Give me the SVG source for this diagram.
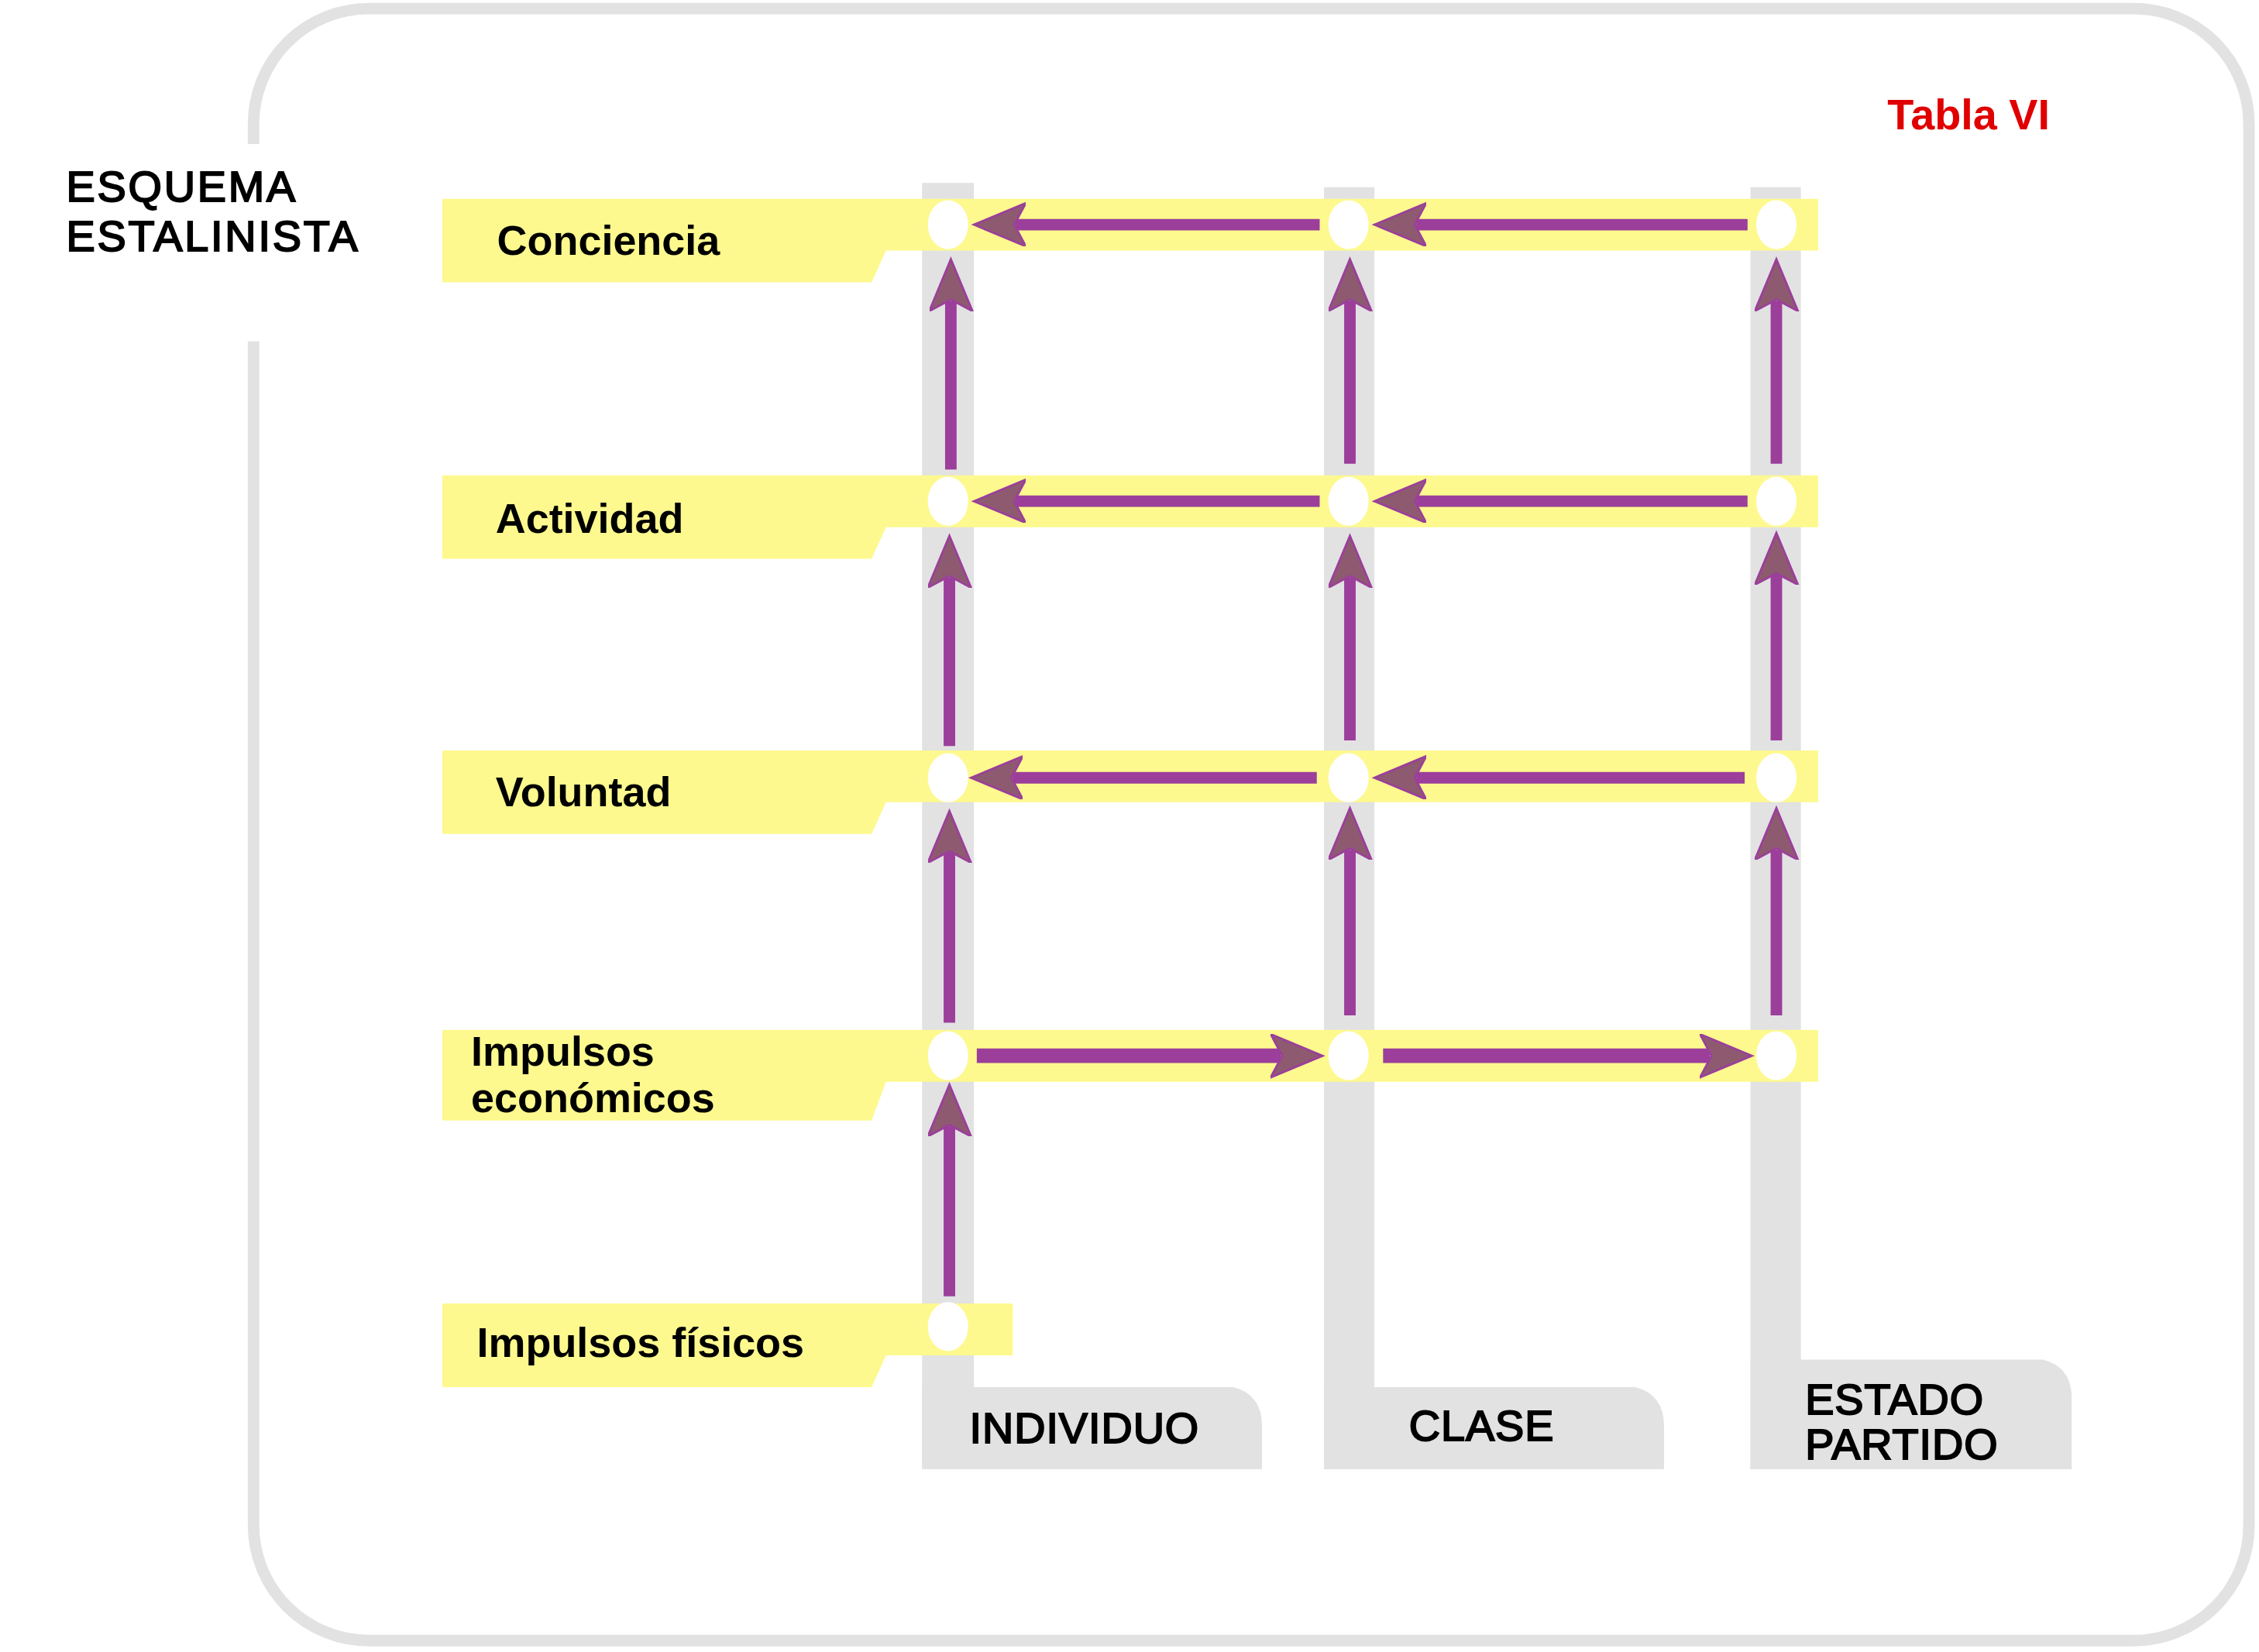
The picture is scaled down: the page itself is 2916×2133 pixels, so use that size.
<svg xmlns="http://www.w3.org/2000/svg" width="2916" height="2133" viewBox="0 0 2916 2133">
<style>
.col{fill:#e2e2e2}
.yel{fill:#fdf98e}
.dot{fill:#ffffff}
.arr{stroke:#9b3f9b;stroke-width:8;fill:none}
.arrw{stroke:#9b3f9b;stroke-width:10;fill:none}
.lbl{font-family:"Liberation Sans",Arial,sans-serif;font-size:29px;font-weight:bold;fill:#000}
.cl{font-family:"Liberation Sans",Arial,sans-serif;font-size:30px;fill:#000;stroke:#000;stroke-width:1.1;letter-spacing:0.5px}
.tt{font-family:"Liberation Sans",Arial,sans-serif;font-size:30px;fill:#000;stroke:#000;stroke-width:1.1;letter-spacing:1.5px}
</style>
<defs>
<marker id="ah" markerUnits="userSpaceOnUse" markerWidth="40" markerHeight="32" refX="7" refY="15" orient="auto">
<path d="M0,0 L36,15 L0,30 L8,15 Z" fill="#8e5a70" stroke="#9b3f9b" stroke-width="1.5"/>
</marker>
</defs>
<rect width="2916" height="2133" fill="#fff"/>
<g transform="scale(1.8597)">
<g id="frame">
<rect x="176" y="6" width="1385" height="1133" rx="80" fill="none" stroke="#e2e2e2" stroke-width="8"/>
<rect x="165" y="100" width="25" height="137" fill="#fff"/>
</g>
<g id="title">
<text class="tt" x="46" y="140">ESQUEMA</text>
<text class="tt" x="46" y="174">ESTALINISTA</text>
</g>
<text id="tabla" x="1310" y="90" font-family="Liberation Sans,Arial,sans-serif" font-size="30" font-weight="bold" fill="#e00000">Tabla VI</text>
<g id="columns">
<rect class="col" x="640" y="127" width="36" height="893"/>
<rect class="col" x="919" y="130" width="35" height="890"/>
<rect class="col" x="1215" y="130" width="35" height="890"/>
<path class="col" d="M640,963 H856 Q876,968 876,990 V1020 H640 Z"/>
<path class="col" d="M919,963 H1135 Q1155,968 1155,990 V1020 H919 Z"/>
<path class="col" d="M1215,944 H1418 Q1438,949 1438,971 V1020 H1215 Z"/>
</g>
<g id="rows">
<path class="yel" d="M307,138 H1262 V174 H615 L605,196 H307 Z"/>
<path class="yel" d="M307,330 H1262 V366 H615 L605,388 H307 Z"/>
<path class="yel" d="M307,521 H1262 V557 H615 L605,579 H307 Z"/>
<path class="yel" d="M307,715 H1262 V751 H615 L605,778 H307 Z"/>
<path class="yel" d="M307,905 H703 V941 H615 L605,963 H307 Z"/>
</g>
<g id="dots">
<ellipse class="dot" cx="658" cy="156" rx="14" ry="17"/><ellipse class="dot" cx="936" cy="156" rx="14" ry="17"/><ellipse class="dot" cx="1233" cy="156" rx="14" ry="17"/>
<ellipse class="dot" cx="658" cy="348" rx="14" ry="17"/><ellipse class="dot" cx="936" cy="348" rx="14" ry="17"/><ellipse class="dot" cx="1233" cy="348" rx="14" ry="17"/>
<ellipse class="dot" cx="658" cy="540" rx="14" ry="17"/><ellipse class="dot" cx="936" cy="540" rx="14" ry="17"/><ellipse class="dot" cx="1233" cy="540" rx="14" ry="17"/>
<ellipse class="dot" cx="658" cy="733" rx="14" ry="17"/><ellipse class="dot" cx="936" cy="733" rx="14" ry="17"/><ellipse class="dot" cx="1233" cy="733" rx="14" ry="17"/>
<ellipse class="dot" cx="658" cy="921" rx="14" ry="17"/>
</g>
<g id="connectors">
<line class="arr" x1="916" y1="156" x2="705" y2="156" marker-end="url(#ah)"/>
<line class="arr" x1="1213" y1="156" x2="983" y2="156" marker-end="url(#ah)"/>
<line class="arr" x1="916" y1="348" x2="705" y2="348" marker-end="url(#ah)"/>
<line class="arr" x1="1213" y1="348" x2="983" y2="348" marker-end="url(#ah)"/>
<line class="arr" x1="914" y1="540" x2="703" y2="540" marker-end="url(#ah)"/>
<line class="arr" x1="1211" y1="540" x2="983" y2="540" marker-end="url(#ah)"/>
<line class="arrw" x1="678" y1="733" x2="889" y2="733" marker-end="url(#ah)"/>
<line class="arrw" x1="960" y1="733" x2="1187" y2="733" marker-end="url(#ah)"/>
<line class="arr" x1="660" y1="326" x2="660" y2="209" marker-end="url(#ah)"/>
<line class="arr" x1="937" y1="322" x2="937" y2="209" marker-end="url(#ah)"/>
<line class="arr" x1="1233" y1="322" x2="1233" y2="209" marker-end="url(#ah)"/>
<line class="arr" x1="659" y1="518" x2="659" y2="401" marker-end="url(#ah)"/>
<line class="arr" x1="937" y1="514" x2="937" y2="401" marker-end="url(#ah)"/>
<line class="arr" x1="1233" y1="514" x2="1233" y2="399" marker-end="url(#ah)"/>
<line class="arr" x1="659" y1="710" x2="659" y2="592" marker-end="url(#ah)"/>
<line class="arr" x1="937" y1="705" x2="937" y2="590" marker-end="url(#ah)"/>
<line class="arr" x1="1233" y1="705" x2="1233" y2="590" marker-end="url(#ah)"/>
<line class="arr" x1="659" y1="900" x2="659" y2="782" marker-end="url(#ah)"/>
</g>
<g id="labels">
<text class="lbl" x="345" y="177">Conciencia</text>
<text class="lbl" x="344" y="370">Actividad</text>
<text class="lbl" x="344" y="560">Voluntad</text>
<text class="lbl" x="327" y="740">Impulsos</text>
<text class="lbl" x="327" y="772">económicos</text>
<text class="lbl" x="331" y="942">Impulsos físicos</text>
<text class="cl" x="673" y="1002">INDIVIDUO</text>
<text class="cl" x="978" y="1000">CLASE</text>
<text class="cl" x="1253" y="982">ESTADO</text>
<text class="cl" x="1253" y="1013">PARTIDO</text>
</g>
</g>
</svg>
